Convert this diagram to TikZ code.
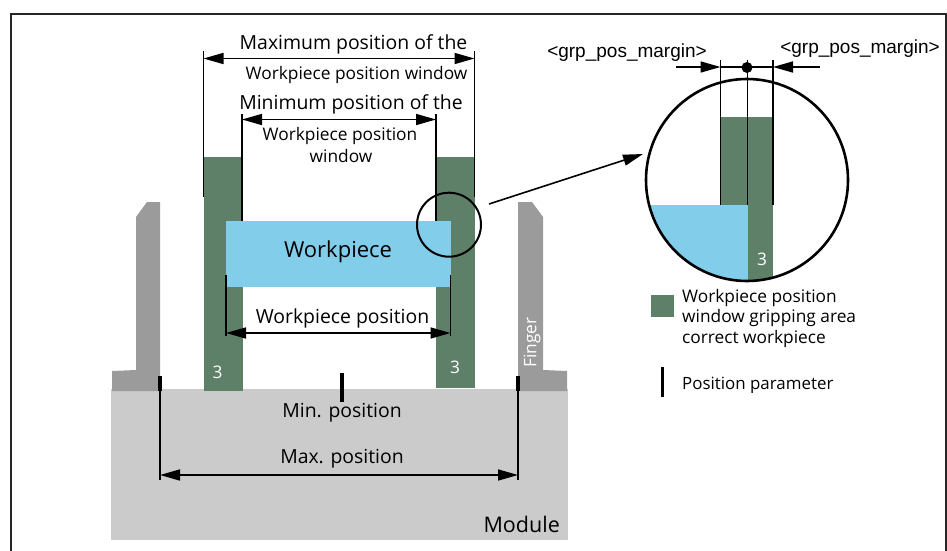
\documentclass[tikz,border=0pt]{standalone}
\usepackage{fontspec}
\setmainfont{Open Sans}
\newfontfamily\arialfont{Liberation Sans}
\usetikzlibrary{arrows.meta}
\definecolor{barGreen}{HTML}{5E8068}
\definecolor{pieceBlue}{HTML}{82CDEA}
\definecolor{fingerGray}{HTML}{9B9B9B}
\definecolor{moduleGray}{HTML}{CBCBCB}
\tikzset{
	dimline/.style={line width=1.6pt, {Triangle[length=20pt,width=11pt]}-{Triangle[length=20pt,width=11pt]}},
	pointer/.style={line width=1.6pt, -{Triangle[length=20pt,width=11pt]}},
	extline/.style={line width=1.8pt},
	posmark/.style={line width=3.6pt},
	bigtext/.style={font=\fontsize{19.4}{19.4}\selectfont, inner sep=0pt},
	smalltext/.style={font=\fontsize{17.3}{17.3}\selectfont, inner sep=0pt},
	grptext/.style={font=\arialfont\fontsize{19}{19}\selectfont, inner sep=0pt}
}
\begin{document}
\begin{tikzpicture}[x=1pt, y=-1pt]
	% Define radii
	\def\rZoom{101}
	\def\rSpot{32}

	\useasboundingbox (0,0) rectangle (947,551);

	% Draw the frame
	\draw[line width=1.2pt, color=black!85] (11,551) -- (11,14) -- (946,14) -- (946,551);

	% Draw the module and the fingers
	\fill[moduleGray] (111,389) rectangle (568,540);
	\fill[fingerGray] (136,217) -- (147,202) -- (160,202) -- (160,391) -- (112,391) -- (112,371) -- (136,370) -- cycle;
	\fill[fingerGray] (518,202) -- (532,202) -- (543,217) -- (543,370) -- (567,371) -- (567,391) -- (518,391) -- cycle;

	% Draw the gripping areas and the workpiece
	\fill[barGreen] (203.5,157) rectangle (242.5,391);
	\fill[barGreen] (436,157) rectangle (475,388);
	\fill[pieceBlue] (226,221) rectangle (450.5,287);
	\node[bigtext, font=\fontsize{22}{22}\selectfont] (workpiece) at (338,251.5) {Workpiece};

	% Maximum position window
	\coordinate (maxL) at (203.5,51);
	\coordinate (maxR) at (474.5,51);
	\draw[extline] (maxL) -- (203.5,197);
	\draw[extline] (maxR) -- (474.5,197);
	\draw[dimline] (203.5,58.5) -- (474.5,58.5);
	\node[bigtext] (maxTop) at (353.5,44) {Maximum position of the};
	\node[smalltext] (maxBottom) at (356.5,75) {Workpiece position window};

	% Minimum position window
	\coordinate (minL) at (242,114);
	\coordinate (minR) at (436,114);
	\draw[extline] (minL) -- (242,221);
	\draw[extline] (minR) -- (436,221);
	\draw[dimline] (242,119.5) -- (436,119.5);
	\node[bigtext] (minTop) at (351,104) {Minimum position of the};
	\node[smalltext] (minMiddle) at (340,136) {Workpiece position};
	\node[smalltext] (minBottom) at (341,156) {window};

	% Workpiece position
	\draw[extline] (226,275) -- (226,336);
	\draw[extline] (450.5,275) -- (450.5,336);
	\draw[dimline] (226,333) -- (450.5,333);
	\node[bigtext] (posLabel) at (342.5,318) {Workpiece position};

	% Position marks on the module
	\draw[posmark] (342,373) -- (342,402);
	\draw[posmark] (160,376) -- (160,391);
	\draw[posmark] (518,376) -- (518,391);
	\draw[extline] (160,391) -- (160,480);
	\draw[extline] (518,391) -- (518,480);
	\draw[dimline] (160,475) -- (518,475);
	\node[bigtext] (minPos) at (342,413) {Min. position};
	\node[bigtext] (maxPos) at (342,459) {Max. position};
	\node[bigtext, anchor=east, font=\fontsize{21.5}{21.5}\selectfont] (module) at (560,524.5) {Module};

	\node[smalltext, text=white] (threeL) at (217.5,372) {3};
	\node[smalltext, text=white] (threeR) at (455,367) {3};
	\node[smalltext, text=white, rotate=90] (finger) at (532,342.5) {Finger};

	% Draw the small circle and the arrow to the zoom
	\draw[line width=2pt] (449,224.7) circle (\rSpot);
	\coordinate (spotOut) at (489,204);
	\coordinate (zoomIn) at (643,154);
	\draw[pointer] (spotOut) -- (zoomIn);

	% Inside of the zoom circle
	\begin{scope}
		\clip (747,180) circle (\rZoom);
		\fill[barGreen] (720.5,117) rectangle (773,290);
		\fill[pieceBlue] (640,205) rectangle (747.5,290);
	\end{scope}
	\draw[line width=2.6pt] (747,180) circle (\rZoom);
	\node[smalltext, text=white] (threeZ) at (762,259) {3};

	% Margin lines above the zoom circle
	\draw[extline] (720.5,60) -- (720.5,205);
	\draw[extline] (747.5,60) -- (747.5,205);
	\draw[extline] (773,60) -- (773,205);
	\draw[line width=1.6pt] (720.5,67) -- (773,67);
	\fill (747,67.5) circle (5.5);
	\coordinate (gapL) at (676,67);
	\coordinate (gapR) at (820,67);
	\draw[pointer] (gapL) -- (720.5,67);
	\draw[pointer] (gapR) -- (773,67);
	\node[grptext] (grpL) at (627,53) {<grp\_pos\_margin>};
	\node[grptext] (grpR) at (860,49) {<grp\_pos\_margin>};

	% Legend
	\fill[barGreen] (651,295) rectangle (674,317);
	\node[smalltext, anchor=west] (legA) at (682,298.5) {Workpiece position};
	\node[smalltext, anchor=west] (legB) at (682,318.5) {window gripping area};
	\node[smalltext, anchor=west] (legC) at (682,339.5) {correct workpiece};
	\draw[posmark] (662.5,367) -- (662.5,397);
	\node[smalltext, anchor=west, font=\fontsize{16.9}{16.9}\selectfont] (legD) at (682,385.5) {Position parameter};
\end{tikzpicture}
\end{document}
